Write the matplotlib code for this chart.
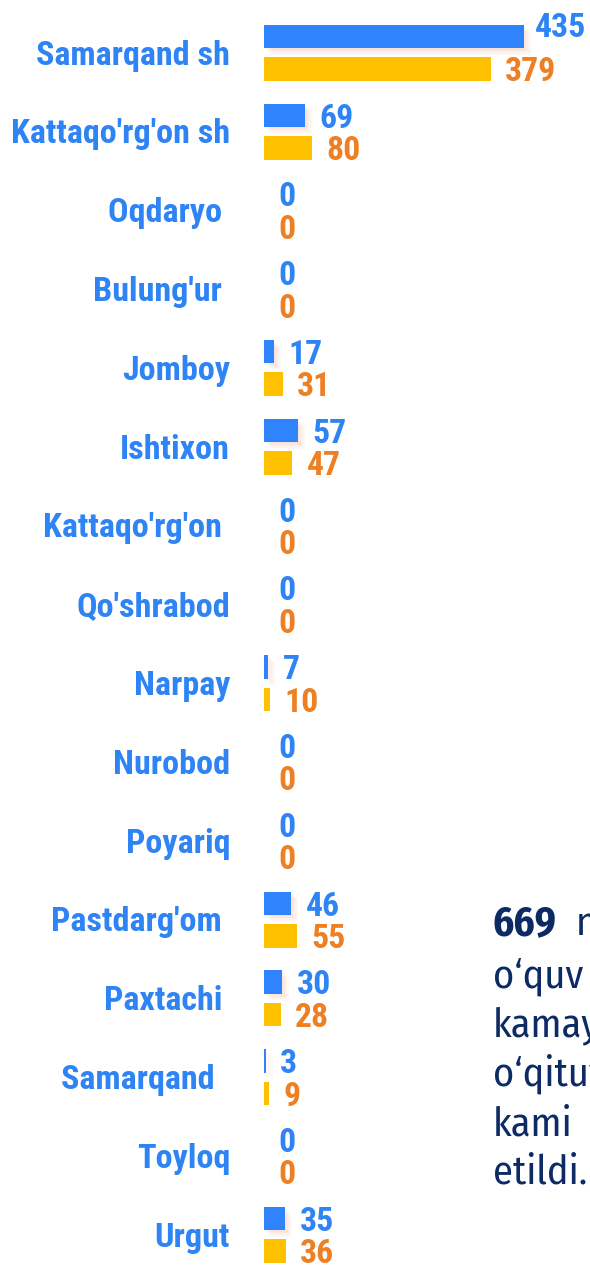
import matplotlib
matplotlib.use("Agg")
import matplotlib.pyplot as plt
from matplotlib.transforms import blended_transform_factory
import matplotlib.patheffects as pe

# ---- data ----
districts = ["Samarqand sh", "Kattaqo'rg'on sh", "Oqdaryo ", "Bulung'ur ", "Jomboy",
             "Ishtixon", "Kattaqo'rg'on ", "Qo'shrabod", "Narpay", "Nurobod",
             "Poyariq", "Pastdarg'om ", "Paxtachi ", "Samarqand  ", "Toyloq", "Urgut"]
series_blue = [435, 69, 0, 0, 17, 57, 0, 0, 7, 0, 0, 46, 30, 3, 0, 35]
series_yellow = [379, 80, 0, 0, 31, 47, 0, 0, 10, 0, 0, 55, 28, 9, 0, 36]
side_bold = ["", "669", "", "", "", "", ""]
side_lines = ["Shu", "  nafar", "o\u2018quv", "kamaygan", "o\u2018qituvchi", "kami", "etildi."]

# ---- style ----
W, H = 590, 1266
DPI = 100
BLUE = "#2f83fb"
YELLOW = "#ffc000"
LBL_BLUE = "#2f84f5"
LBL_ORANGE = "#ee7f22"
NAVY = "#0c2a63"
FONT = "Roboto Condensed"
BODY = "Fira Sans Condensed"

fig = plt.figure(figsize=(W / DPI, H / DPI), dpi=DPI)
ax = fig.add_axes([0, 0, 1, 1])
ax.axis("off")

px_per_unit = 260 / max(series_blue)
x0_px = 264
ax.set_xlim(-x0_px / px_per_unit, (W - x0_px) / px_per_unit)
pitch = 78.8
c0 = 52.75
ax.set_ylim((H - c0) / pitch, -c0 / pitch)

off = 16.25 / pitch
bh = 23.5 / pitch
ys = list(range(len(districts)))

shadow = [pe.SimplePatchShadow(offset=(d, -d), shadow_rgbFace="#f2a27a", alpha=0.06)
          for d in (1, 2, 3, 4, 5)] + [pe.Normal()]
bars_b = ax.barh([y - off for y in ys], series_blue, height=bh, color=BLUE, zorder=3)
for b in bars_b:
    b.set_path_effects(shadow)
ax.barh([y + off for y in ys], series_yellow, height=bh, color=YELLOW, zorder=3)

tr_lbl = blended_transform_factory(fig.transFigure, ax.transData)
lbl_base = 11.8 / pitch
for y, name in zip(ys, districts):
    ax.text(230 / W, y + lbl_base, name, transform=tr_lbl, ha="right", va="baseline",
            fontsize=24.6, fontweight="bold", color=LBL_BLUE, family=FONT)

gap = 14.5 / px_per_unit
val_base = 12.3 / pitch
right_lim = 586 / px_per_unit - x0_px / px_per_unit
for y, vb, vy in zip(ys, series_blue, series_yellow):
    for v, yy, col in ((vb, y - off, LBL_BLUE), (vy, y + off, LBL_ORANGE)):
        x = v + gap
        if x + 55 / px_per_unit > right_lim:
            ax.text(right_lim, yy + val_base - 11.5 / pitch, str(v), ha="right", va="baseline",
                    fontsize=24.3, fontweight="bold", color=col, family=FONT, zorder=4)
        else:
            ax.text(x, yy + val_base, str(v), ha="left", va="baseline", fontsize=24.3,
                    fontweight="bold", color=col, family=FONT, zorder=4)

# cropped side paragraph
base = [884, 935, 987, 1037, 1085, 1135, 1183]
xs = [588, 493, 493, 493, 493, 493, 493]
for bt, t, b, x in zip(side_bold, side_lines, base, xs):
    xx = x
    if bt:
        tb = fig.text(x / W, 1 - b / H, bt, ha="left", va="baseline", fontsize=29.5,
                      fontweight="bold", color=NAVY, family=BODY)
        r = fig.canvas.get_renderer()
        xx = tb.get_window_extent(r).x1
    fig.text(xx / W, 1 - b / H, t, ha="left", va="baseline", fontsize=29,
             color=NAVY, family=BODY)

fig.savefig("out.png", dpi=DPI, facecolor="white")
